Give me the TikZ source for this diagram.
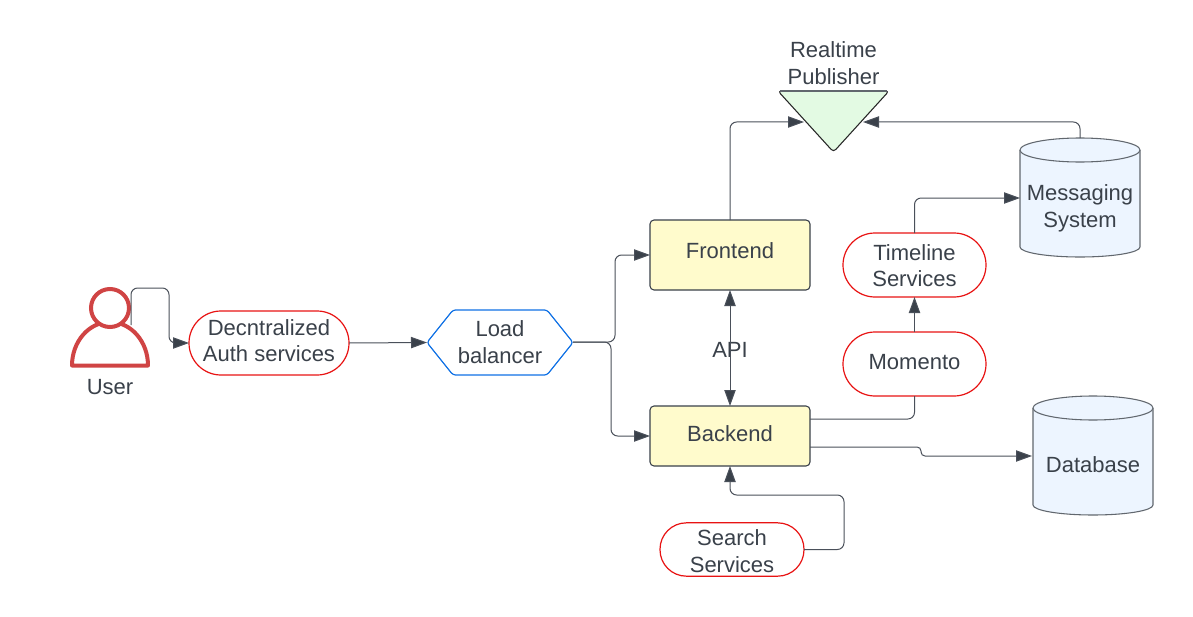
\documentclass[tikz,border=0pt]{standalone}
\usepackage{fontspec}
\setmainfont{Liberation Sans}
\usetikzlibrary{arrows.meta}
\definecolor{ink}{HTML}{3A414A}
\definecolor{wire}{HTML}{4A505A}
\definecolor{pillred}{HTML}{E81313}
\definecolor{lbblue}{HTML}{1071E5}
\definecolor{boxyellow}{HTML}{FFFBCC}
\definecolor{cylblue}{HTML}{EDF5FF}
\definecolor{pubgreen}{HTML}{E3FAE3}
\definecolor{userred}{HTML}{D04444}
\newsavebox{\liftbox}
\newcommand{\lift}[2]{\sbox{\liftbox}{\begin{tabular}{@{}c@{}}#2\end{tabular}}\raisebox{#1}[\ht\liftbox][\dp\liftbox]{\usebox{\liftbox}}}
\tikzset{
  every node/.style={font=\fontsize{16.5}{20}\selectfont,text=ink,align=center,inner sep=0pt,outer sep=0pt},
  pill/.style={draw=pillred,line width=0.9pt,fill=white,rounded corners=#1},
  yellowbox/.style={draw=ink,line width=0.8pt,fill=boxyellow,rounded corners=3pt,minimum width=120pt},
  wired/.style={draw=wire,line width=0.75pt,rounded corners=5pt},
  arrowed/.style={wired,-{Triangle[length=12pt,width=8.5pt,fill=ink]}},
  cyl/.style={draw=ink!80,line width=0.8pt},
}
\newcommand{\cylinderat}[3]{%
  % centre x, top y, bottom y
  \fill[cylblue] (#1-60,#2+12) -- (#1-60,#3-10) arc[x radius=60,y radius=10,start angle=180,end angle=0] -- (#1+60,#2+12) -- cycle;
  \draw[cyl] (#1-60,#2+12) -- (#1-60,#3-10) arc[x radius=60,y radius=10,start angle=180,end angle=0] -- (#1+60,#2+12);
  \draw[cyl,fill=cylblue] (#1,#2+12) ellipse[x radius=60,y radius=12];
}
\begin{document}
\begin{tikzpicture}[x=0.75pt,y=-0.75pt]
\useasboundingbox[fill=white] (0,0) rectangle (1193,617);

% user icon
\draw[userred,line width=3pt,line join=round,fill=white] (72,365.5) arc[x radius=38,y radius=43.5,start angle=180,end angle=360] -- cycle;
\node[circle,draw=userred,line width=3pt,fill=white,minimum size=28.5pt] (head) at (110,308) {};
\node (user) at (110,387) {User};
\coordinate (userout) at (131,325);

% pills
\node[pill=24pt,minimum width=120pt,minimum height=48pt] (auth) at (269,343) {\lift{0pt}{Decntralized\\Auth services}};
\node[pill=24pt,minimum width=107.25pt,minimum height=48pt] (timeline) at (914.5,265) {\lift{-2.25pt}{Timeline\\Services}};
\node[pill=24pt,minimum width=107.25pt,minimum height=48pt] (momento) at (914.5,364) {\lift{0pt}{Momento}};
\node[pill=19.8pt,minimum width=108pt,minimum height=39.75pt] (search) at (732,549.5) {\lift{-3pt}{Search\\Services}};

% load balancer
\draw[lbblue,line width=0.9pt,line join=round,fill=white,rounded corners=2pt]
  (427,342.5) -- (453,310) -- (547,310) -- (573,342.5) -- (547,375) -- (453,375) -- cycle;
\node[minimum width=109.5pt,minimum height=48pt] (lb) at (500,342.5) {\lift{-1.5pt}{Load\\balancer}};

% boxes
\node[yellowbox,minimum height=52.5pt] (frontend) at (730,255) {\lift{1.5pt}{Frontend}};
\node[yellowbox,minimum height=45pt] (backend) at (730,436) {\lift{0pt}{Backend}};
\node (api) at (730,350) {API};

% publisher
\draw[draw=black!85,line width=0.8pt,line join=round,fill=pubgreen,rounded corners=2.5pt]
  (778,91) -- (889,91) -- (833.5,152) -- cycle;
\draw[ink!80,line width=1.1pt] (780,91) -- (887,91);
\node (publisher) at (833.5,63) {Realtime\\Publisher};
\coordinate (publeft) at (804,122);
\coordinate (pubright) at (863,122);

% cylinders
\cylinderat{1080}{138}{257}
\node[minimum width=90pt,minimum height=40pt] (messaging) at (1080,208) {Messaging\\System};
\coordinate (msgtop) at (1080,138);
\coordinate (msgleft) at (1020,198);
\cylinderat{1093}{396}{515}
\node (database) at (1093,465) {Database};
\coordinate (dbleft) at (1032,456);

% ports
\coordinate (backup) at (810,419);
\coordinate (backdown) at (810,447);
\coordinate (backjog) at (921,447);
\coordinate (backjogb) at (921,456);
\coordinate (lbout) at (573,342);
\coordinate (fport) at (650,255);
\coordinate (bport) at (650,436);

% connectors
\draw[arrowed] (userout) -- (131,288) -- (169,288) -- (169,343) -- (auth.west);
\draw[arrowed] (auth.east) -- (lb.west);
\draw[arrowed] (lbout) -- (615,342) -- (615,255) -- (fport);
\draw[arrowed] (lbout) -- (611,342) -- (611,436) -- (bport);
\draw[wired,{Triangle[length=12pt,width=8.5pt,fill=ink]}-{Triangle[length=12pt,width=8.5pt,fill=ink]}] (frontend.south) -- (backend.north);
\draw[arrowed] (frontend.north) -- (730,122) -- (publeft);
\draw[arrowed] (msgtop) -- (1080,122) -- (pubright);
\draw[arrowed] (timeline.north) -- (914.5,198) -- (msgleft);
\draw[arrowed] (momento.north) -- (timeline.south);
\draw[wired] (backup) -- (914.5,419) -- (momento.south);
\draw[arrowed,rounded corners=3pt] (backdown) -- (backjog) -- (backjogb) -- (dbleft);
\draw[arrowed] (search.east) -- (844,549.5) -- (844,495) -- (730,495) -- (backend.south);
\end{tikzpicture}
\end{document}
